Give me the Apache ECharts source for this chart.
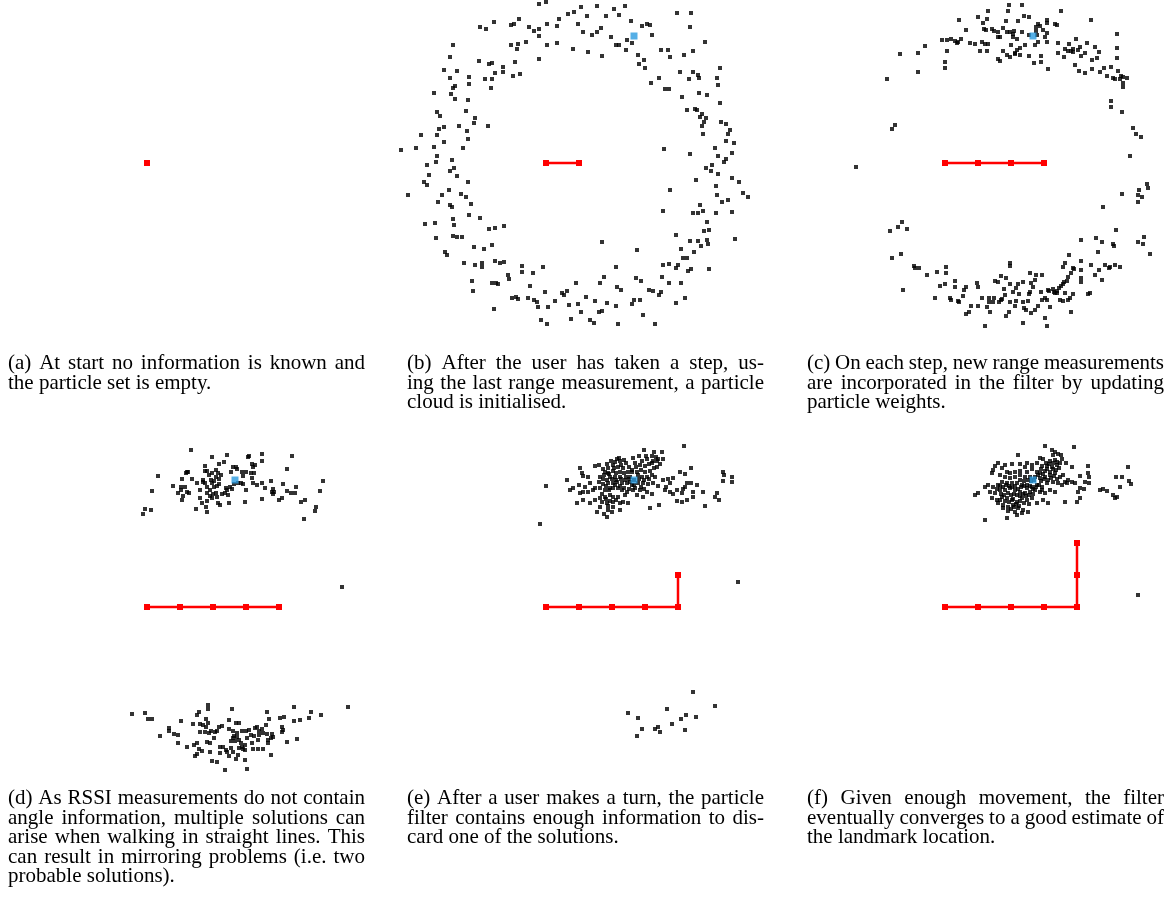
<!DOCTYPE html>
<html>
<head>
<meta charset="utf-8">
<script src="https://cdn.jsdelivr.net/npm/echarts@6/dist/echarts.min.js"></script>
<style>
  html, body { margin: 0; padding: 0; background: #fff; }
  #main { width: 1167px; height: 911px; }
</style>
</head>
<body>
<div id="main"></div>
<script>
// walked path (start at 0,0), one step ~ 33 units; the landmark sits at (88,127)
var walkPath = [[0, 0], [33, 0], [66, 0], [99, 0], [132, 0], [132, 32], [132, 64]];
var landmark = [88, 127];
// how many path points are known in each panel (a..f)
var stepsShown = [1, 2, 4, 5, 6, 7];
var showLandmark = [false, true, true, true, true, true];

// particle clouds (x right, y up, same units as the path)
var particlesA = [];
var particlesB = [
  [-7,159],[0,161],[35,156],[51,157],[68,154],[79,157],[22,149],[28,151],[41,147],[60,147],[73,148],[131,150],[145,150],
  [13,144],[-27,144],[-52,141],[-66,136],[-60,134],[-35,138],[-32,139],[-17,136],[-12,132],[-7,134],[1,139],[11,137],[32,139],
  [85,142],[96,137],[101,139],[104,138],[144,136],[37,131],[46,128],[51,131],[55,135],[-7,127],[65,126],[81,123],[86,120],
  [106,128],[70,118],[73,118],[80,113],[92,108],[98,103],[93,99],[99,95],[115,113],[122,113],[124,106],[138,108],[147,112],
  [159,121],[-93,118],[-96,106],[-35,118],[-28,119],[-29,114],[-20,121],[1,118],[11,120],[27,114],[42,111],[56,107],[-7,104],
  [-67,102],[-57,99],[-54,100],[-31,101],[-102,93],[-89,92],[-96,85],[-77,86],[-77,79],[-91,77],[-93,75],[-61,84],[-54,84],
  [-51,90],[-43,96],[-43,91],[-33,87],[-26,89],[-55,75],[-95,69],[-91,64],[-78,63],[-112,70],[-109,51],[-106,47],[-80,52],
  [-71,45],[-72,40],[-87,37],[-102,36],[-107,34],[-58,37],[-125,28],[-109,28],[-79,32],[-78,24],[-102,21],[-130,15],[-112,16],
  [-83,15],[-145,13],[-109,7],[-94,3],[-110,1],[-119,-2],[113,85],[119,74],[123,74],[105,80],[134,91],[147,91],[152,88],
  [153,85],[143,84],[174,95],[171,85],[172,78],[153,70],[161,68],[136,66],[141,53],[149,54],[151,53],[156,49],[154,46],
  [160,45],[158,41],[156,37],[174,60],[175,41],[180,39],[184,33],[182,29],[157,29],[188,20],[180,22],[169,15],[186,10],
  [144,9],[118,14],[172,7],[180,4],[178,1],[166,-2],
  [-96,-8],[-92,-5],[-89,-13],[-117,-12],[-122,-19],[-119,-22],[-78,-19],[-138,-32],[-97,-27],[-104,-32],[-108,-39],[-96,-42],
  [-94,-44],[-85,-31],[-80,-34],[-75,-41],[-77,-52],[-66,-55],[-93,-56],[-92,-62],[-121,-61],[-111,-60],[-110,-75],[-93,-73],
  [-89,-74],[-84,-74],[-101,-89],[-99,-92],[-72,-84],[-62,-86],[-54,-82],[-57,-66],[-51,-65],[-42,-63],[-82,-100],[-71,-102],
  [-64,-100],[-64,-104],[-51,-98],[-46,-100],[-42,-99],[-74,-118],[-73,-128],[-54,-120],[-50,-120],[-48,-121],[-38,-112],
  [-37,-116],[-24,-103],[-24,-109],[-13,-110],[-3,-104],[-52,-146],[-34,-135],[-30,-134],[-28,-136],[-18,-135],[-12,-137],
  [-9,-139],[-8,-144],[-16,-123],[-1,-129],[2,-144],[-5,-157],[1,-161],[9,-138],[16,-130],[18,-132],[21,-128],[30,-120],
  [23,-142],[32,-141],[35,-149],[25,-156],[40,-134],[49,-138],[44,-157],[48,-160],[53,-149],[56,-148],[61,-140],[54,-120],
  [58,-114],[56,-79],[70,-104],[71,-124],[75,-127],[70,-143],[72,-161],[86,-141],[88,-137],[94,-137],[97,-152],[90,-115],
  [95,-118],[91,-87],[103,-127],[107,-128],[113,-132],[115,-129],[109,-161],[130,-140],[139,-135],[116,-114],[123,-120],
  [135,-120],[117,-102],[123,-101],[130,-105],[132,-102],[142,-108],[145,-106],[137,-95],[141,-95],[148,-89],[135,-86],
  [144,-78],[152,-78],[155,-83],[162,-81],[161,-77],[163,-106],[130,-72],[158,-68],[163,-67],[161,-59],[147,-50],[152,-50],
  [157,-48],[170,-50],[154,-42],[176,-39],[182,-37],[186,-49],[189,-76],[117,-48],[124,-27],[150,-17],[160,-5],[165,-8],
  [172,-11],[170,-23],[171,-32],[186,-15],[193,-19],[197,-30],[202,-34]
];
var particlesC = [
  [64,158],[77,158],[116,152],[43,152],[63,152],[33,146],[42,144],[14,143],[38,140],[61,142],[73,142],[79,147],[84,146],
  [102,143],[102,140],[110,139],[112,138],[146,143],[21,133],[39,134],[41,133],[47,134],[49,132],[53,131],[58,135],[62,131],
  [65,131],[69,132],[77,131],[68,129],[68,126],[72,124],[53,126],[55,126],[91,136],[93,139],[95,137],[91,132],[98,133],
  [102,130],[100,126],[84,128],[92,128],[102,121],[93,121],[90,118],[80,118],[75,115],[66,118],[72,113],[70,110],[58,112],
  [62,108],[65,106],[70,109],[75,108],[84,107],[96,107],[96,101],[89,100],[103,94],[53,104],[55,102],[-3,123],[2,123],
  [6,124],[10,122],[13,121],[12,120],[16,124],[25,120],[30,119],[37,121],[40,119],[43,119],[35,112],[42,112],[2,112],
  [0,101],[0,95],[-27,110],[-20,117],[-45,109],[-27,91],[-58,84],[113,120],[113,110],[119,106],[124,119],[120,114],[123,112],
  [126,112],[128,111],[128,114],[131,124],[135,116],[133,113],[136,107],[140,110],[142,120],[150,116],[154,111],[152,105],
  [147,103],[130,98],[134,92],[140,90],[147,94],[155,91],[159,95],[162,87],[166,96],[168,85],[170,84],[173,92],[176,87],
  [178,86],[175,84],[178,80],[178,76],[182,85],[172,129],[172,115],[172,105],[166,62],[166,56],[177,51],[188,35],[191,29],
  [196,26],[185,7],[-50,38],[-53,34],[-89,-4],
  [202,-21],[194,-27],[203,-25],[193,-32],[197,-34],[193,-39],[177,-31],[158,-44],[171,-67],[151,-75],[157,-79],[168,-81],
  [169,-83],[153,-89],[136,-77],[193,-79],[198,-81],[199,-74],[205,-91],[-55,-68],[-47,-64],[-43,-59],[-38,-66],[-53,-95],
  [-44,-91],[-42,-127],[-31,-103],[-30,-105],[-26,-105],[-18,-112],[-8,-109],[1,-104],[1,-110],[-5,-123],[0,-121],[10,-118],
  [10,-124],[-10,-135],[5,-135],[6,-137],[13,-138],[14,-139],[18,-133],[19,-127],[21,-124],[32,-120],[33,-124],[24,-149],
  [21,-151],[26,-143],[33,-143],[37,-135],[40,-163],[42,-144],[44,-135],[45,-149],[44,-139],[48,-139],[49,-135],[54,-139],
  [56,-137],[57,-136],[50,-118],[53,-119],[56,-113],[61,-115],[65,-100],[65,-103],[65,-121],[59,-126],[60,-132],[68,-129],
  [71,-125],[73,-121],[74,-131],[78,-119],[65,-139],[71,-138],[70,-143],[61,-153],[64,-149],[78,-139],[79,-145],[81,-147],
  [78,-160],[83,-138],[84,-131],[85,-129],[86,-120],[88,-124],[90,-117],[91,-112],[85,-110],[97,-112],[86,-150],[90,-147],
  [93,-143],[96,-129],[97,-137],[100,-135],[100,-155],[102,-163],[102,-137],[103,-127],[104,-128],[105,-144],[108,-126],
  [109,-129],[110,-130],[112,-130],[112,-128],[114,-125],[116,-123],[118,-121],[119,-119],[122,-118],[123,-114],[126,-110],
  [128,-105],[129,-106],[136,-107],[136,-115],[136,-119],[136,-98],[118,-104],[120,-100],[124,-92],[115,-137],[118,-138],
  [123,-137],[120,-130],[125,-135],[128,-131],[126,-149],[143,-131],[145,-130],[146,-102],[150,-112],[154,-107],[157,-117],
  [160,-102],[164,-105],[165,-104],[170,-102],[175,-104]
];
var particlesD = [
  [44,157],[65,150],[80,152],[101,150],[102,151],[115,153],[115,146],[145,151],[72,143],[77,145],[58,141],[58,136],[60,136],
  [65,134],[62,132],[69,137],[71,134],[74,132],[86,140],[89,140],[90,138],[84,135],[95,135],[99,135],[96,131],[105,143],
  [108,142],[106,140],[104,134],[107,134],[105,129],[40,135],[39,134],[41,135],[35,128],[45,128],[11,131],[26,121],[34,120],
  [38,120],[34,117],[31,114],[40,115],[42,114],[36,111],[35,107],[50,124],[56,125],[58,124],[64,127],[65,124],[67,126],
  [69,130],[72,128],[67,120],[70,121],[72,123],[63,117],[60,114],[63,111],[66,113],[69,114],[70,110],[65,109],[60,106],
  [55,104],[53,109],[71,104],[73,102],[59,100],[49,98],[60,95],[79,119],[80,117],[78,114],[83,120],[85,118],[87,123],
  [81,112],[75,113],[82,104],[91,124],[94,124],[96,123],[99,117],[98,105],[106,124],[110,122],[115,124],[115,108],[118,119],
  [124,126],[126,118],[125,115],[127,115],[126,113],[132,107],[135,109],[136,123],[140,138],[140,116],[144,114],[149,120],
  [148,114],[154,105],[158,107],[176,126],[173,116],[169,100],[168,96],[157,88],[5,116],[4,97],[-2,98],[-4,93],[60,120],
  [53,117],[56,127],[195,20],
  [-15,-107],[-2,-106],[1,-112],[5,-112],[13,-129],[22,-121],[22,-124],[27,-127],[31,-128],[31,-136],[34,-114],[40,-140],
  [46,-117],[50,-108],[52,-105],[61,-98],[61,-102],[59,-112],[53,-117],[56,-118],[59,-120],[61,-116],[53,-125],[58,-125],
  [62,-126],[64,-124],[68,-125],[70,-124],[72,-120],[75,-119],[67,-131],[60,-135],[63,-136],[50,-136],[47,-138],[52,-142],
  [50,-147],[48,-149],[55,-144],[63,-145],[65,-154],[70,-155],[73,-146],[73,-140],[76,-140],[79,-143],[80,-145],[82,-149],
  [84,-141],[86,-145],[89,-152],[91,-148],[98,-153],[100,-162],[78,-163],[82,-113],[85,-102],[82,-122],[86,-124],[89,-116],
  [92,-116],[90,-126],[87,-129],[86,-131],[90,-130],[92,-133],[88,-134],[84,-134],[94,-136],[95,-140],[96,-142],[98,-143],
  [98,-138],[92,-141],[95,-124],[99,-124],[102,-123],[100,-131],[104,-128],[105,-136],[107,-129],[108,-121],[110,-120],
  [112,-124],[112,-128],[115,-122],[116,-126],[119,-118],[120,-127],[121,-133],[121,-136],[124,-131],[125,-127],[126,-130],
  [111,-133],[106,-142],[111,-142],[116,-142],[124,-148],[120,-105],[122,-112],[133,-111],[137,-110],[135,-120],[136,-123],
  [135,-125],[140,-135],[150,-132],[147,-100],[147,-114],[153,-113],[162,-111],[164,-105],[174,-108],[201,-100]
];
var particlesE = [
  [138,161],[98,157],[108,155],[116,155],[117,148],[110,150],[111,146],[106,144],[114,143],[101,148],[96,146],[87,149],
  [89,144],[73,149],[71,148],[69,145],[75,142],[80,144],[83,140],[77,139],[72,140],[67,142],[61,143],[53,142],[49,141],
  [57,138],[59,135],[62,134],[67,136],[70,134],[74,135],[78,134],[82,135],[86,135],[91,135],[95,137],[99,135],[104,136],
  [108,139],[111,140],[106,132],[109,130],[101,130],[96,130],[92,132],[84,130],[80,130],[74,130],[69,130],[64,130],[61,127],
  [57,128],[54,130],[53,125],[57,123],[62,124],[67,124],[71,125],[76,124],[81,124],[86,122],[92,124],[97,124],[102,123],
  [107,124],[112,121],[117,127],[122,128],[127,129],[124,124],[120,120],[119,117],[124,115],[127,113],[131,117],[137,118],
  [139,120],[136,114],[141,124],[145,124],[147,115],[151,122],[157,115],[141,107],[136,105],[131,106],[147,110],[159,101],
  [169,110],[171,114],[173,107],[34,139],[36,134],[37,131],[42,130],[44,124],[39,120],[33,122],[27,119],[21,127],[24,117],
  [34,114],[37,115],[42,115],[47,117],[49,119],[54,119],[59,117],[63,117],[67,119],[72,119],[76,117],[81,115],[87,117],
  [94,117],[101,115],[106,113],[64,112],[59,110],[54,109],[49,107],[56,105],[61,104],[67,105],[74,104],[77,105],[82,104],
  [67,100],[62,97],[66,95],[61,90],[51,95],[54,100],[31,104],[37,107],[44,104],[74,97],[104,99],[113,102],[91,112],[0,121],
  [-6,83],[134,135],[139,133],[145,139],[177,135],[178,132],[186,130],[186,125],[177,126],[62,139],[84,125],[89,119],
  [79,112],[72,110],[67,110],[97,110],[192,25],
  [58,132],[63,133],[66,128],[70,127],[75,128],[79,127],[83,128],[88,127],[93,128],[98,127],[103,128],[86,137],[90,140],
  [94,142],[99,141],[103,143],[107,146],[112,148],[106,151],[100,151],[93,151],[78,147],[74,146],[65,146],[68,139],[60,121],
  [64,119],[69,122],[74,121],[78,119],[83,118],[88,122],[95,120],[98,118],[60,108],[64,106],[70,107],[56,113],[62,101],[58,93],
  [147,-85],[169,-99],[82,-106],[121,-102],[92,-111],[140,-108],[135,-112],[150,-110],[126,-117],[96,-122],[109,-122],
  [112,-120],[114,-125],[139,-123],[91,-129]
];
var particlesF = [
  [100,161],[129,160],[107,157],[110,155],[113,153],[116,152],[108,152],[73,152],[95,149],[98,148],[105,146],[110,147],
  [115,144],[121,144],[127,140],[143,141],[112,142],[107,140],[102,141],[97,141],[92,144],[87,142],[82,144],[80,140],
  [75,143],[67,143],[60,142],[53,144],[50,141],[48,137],[57,139],[62,135],[65,134],[70,135],[75,136],[82,135],[87,138],
  [92,135],[95,134],[100,136],[105,135],[110,134],[105,132],[100,130],[95,129],[90,130],[85,130],[80,130],[75,132],[70,130],
  [65,129],[60,130],[55,132],[47,134],[118,132],[123,127],[120,125],[122,124],[127,125],[130,124],[135,131],[143,134],
  [144,130],[144,124],[140,125],[135,119],[139,118],[133,115],[135,109],[120,105],[132,105],[155,117],[158,118],[162,116],
  [168,112],[172,110],[170,109],[175,120],[171,130],[177,130],[183,140],[184,126],[186,123],[117,122],[113,124],[108,125],
  [102,124],[97,120],[92,122],[87,120],[82,119],[77,122],[72,124],[67,124],[62,124],[57,125],[53,122],[48,120],[43,122],
  [40,120],[33,114],[30,112],[45,115],[50,114],[55,117],[60,117],[65,119],[70,117],[75,115],[80,114],[85,115],[90,117],
  [95,115],[100,114],[105,117],[110,115],[98,107],[103,104],[92,104],[87,109],[82,107],[77,109],[72,105],[67,107],[62,109],
  [57,110],[52,107],[47,109],[53,104],[58,102],[63,100],[68,102],[73,99],[78,97],[83,95],[70,95],[62,89],[40,87],[72,92],
  [52,118],[55,121],[58,120],[61,122],[64,121],[67,120],[70,121],[73,118],[76,120],[79,121],[82,122],[85,121],[88,118],
  [91,120],[94,122],[97,117],[56,113],[59,112],[63,114],[66,112],[69,113],[72,112],[75,111],[78,113],[81,111],[84,112],
  [88,113],[60,106],[64,105],[68,108],[71,103],[75,106],[79,104],[84,103],[66,98],[69,100],[74,101],[77,94],[58,99],[63,96],
  [55,107],[96,126],[99,128],[103,127],[106,129],[109,131],[112,128],[115,130],[98,133],[102,138],[108,138],[111,137],
  [114,139],[104,143],[108,144],[112,145],[117,148],[101,144],[96,138],[93,132],[89,127],[86,126],[83,127],[79,126],[75,127],
  [193,12]
];
var particleSets = [particlesA, particlesB, particlesC, particlesD, particlesE, particlesF];

var captions = [
  ["(a) At start no information is known and", "the particle set is empty."],
  ["(b) After the user has taken a step, us-", "ing the last range measurement, a particle", "cloud is initialised."],
  ["(c) On each step, new range measurements", "are incorporated in the filter by updating", "particle weights."],
  ["(d) As RSSI measurements do not contain", "angle information, multiple solutions can",
   "arise when walking in straight lines. This", "can result in mirroring problems (i.e. two", "probable solutions)."],
  ["(e) After a user makes a turn, the particle", "filter contains enough information to dis-", "card one of the solutions."],
  ["(f) Given enough movement, the filter", "eventually converges to a good estimate of", "the landmark location."]
];

var chart = echarts.init(document.getElementById('main'));

var colLeft = [0, 399, 798];
var rowTop = [0, 444];
var capLeft = [8, 407, 807];
var capTop = [353, 788];
var capWidth = 357;
var capFont = '21px "Liberation Serif"';
var lineH = 19.5;

var grids = [], xAxes = [], yAxes = [], series = [], graphics = [];

for (var i = 0; i < 6; i++) {
  var col = i % 3, row = Math.floor(i / 3);
  // 1 unit = 1px, grid kept inside the 1167px canvas
  grids.push({ left: colLeft[col], top: rowTop[row], width: 368, height: 330 });
  xAxes.push({ gridIndex: i, type: 'value', min: -147, max: 221, show: false });
  yAxes.push({ gridIndex: i, type: 'value', min: -167, max: 163, show: false });

  series.push({
    type: 'scatter', xAxisIndex: i, yAxisIndex: i,
    symbol: 'rect', symbolSize: 4,
    itemStyle: { color: '#000' },
    data: particleSets[i], z: 2
  });
  series.push({
    type: 'line', xAxisIndex: i, yAxisIndex: i,
    symbol: 'rect', symbolSize: 6, showSymbol: true,
    lineStyle: { color: '#ff0000', width: 2.5 },
    itemStyle: { color: '#ff0000' },
    data: walkPath.slice(0, stepsShown[i]), z: 3
  });
  if (showLandmark[i]) {
    series.push({
      type: 'scatter', xAxisIndex: i, yAxisIndex: i,
      symbol: 'rect', symbolSize: 7,
      itemStyle: { color: '#2a9be0' },
      data: [landmark], z: 4
    });
  }
}

// captions, justified like the paper
var ctx = document.createElement('canvas').getContext('2d');
ctx.font = capFont;
captions.forEach(function (lines, i) {
  var col = i % 3, row = Math.floor(i / 3);
  lines.forEach(function (line, k) {
    var y = capTop[row] + k * lineH;
    var words = line.split(' ');
    if (k === lines.length - 1 || words.length < 2) {
      graphics.push({ type: 'text', left: capLeft[col], top: y,
        style: { text: line, font: capFont, fill: '#000' } });
      return;
    }
    var total = 0;
    words.forEach(function (w) { total += ctx.measureText(w).width; });
    var gap = (capWidth - total) / (words.length - 1);
    var x = capLeft[col];
    words.forEach(function (w) {
      graphics.push({ type: 'text', left: x, top: y,
        style: { text: w, font: capFont, fill: '#000' } });
      x += ctx.measureText(w).width + gap;
    });
  });
});

chart.setOption({
  animation: false,
  backgroundColor: '#fff',
  grid: grids,
  xAxis: xAxes,
  yAxis: yAxes,
  series: series,
  graphic: graphics
});
</script>
</body>
</html>
